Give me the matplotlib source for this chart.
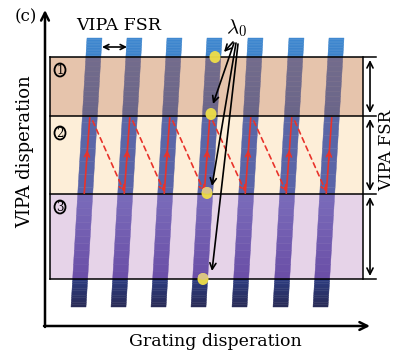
import matplotlib
matplotlib.use("Agg")
import matplotlib.pyplot as plt
import numpy as np
from matplotlib.patches import Polygon, Rectangle, Ellipse
from matplotlib.colors import to_rgb

plt.rcParams['font.family'] = ['DejaVu Serif']
plt.rcParams['mathtext.fontset'] = 'cm'

# ---- diagram data (pixel coords, y down) ----
stripe_top_x = [87, 127, 167, 207, 248, 289, 329]   # left edge of each stripe at its top
stripe_w = 15
stripe_y0, stripe_y1 = 38, 307
stripe_shift = -16                                   # x drift over the full stripe length

rect_x0, rect_x1 = 50, 363
band_edges = [57, 116, 194, 279]
band_colors = ['#e6c4ac', '#fdeed8', '#e6d3e8']
band_labels = ['1', '2', '3']
band_label_y = [70, 133, 207]

seg_edges = [38, 57, 116, 194, 279, 307]
seg_colors = [('#3f88d0', '#3b82ca'),
              ('#736c8c', '#6a6589'),
              ('#5a67a6', '#5a64a8'),
              ('#7a6cba', '#6a4ea6'),
              ('#2c3c80', '#282a55')]

dot_xy = [(215, 57), (211, 114), (207, 193), (203, 279)]
lam_start = [(233, 42), (234, 43), (236, 43), (238, 44)]
lam_end = [(224, 52), (213, 104), (212, 186), (212, 271)]

fig = plt.figure(figsize=(3.96, 3.55), dpi=100)
ax = fig.add_axes([0, 0, 1, 1])
ax.axis('off')


def xl(i, y):
    return stripe_top_x[i] + stripe_shift * (y - stripe_y0) / (stripe_y1 - stripe_y0)


def cx(i, y):
    return xl(i, y) + stripe_w / 2


# bands
for k, c in enumerate(band_colors):
    ax.add_patch(Rectangle((rect_x0, band_edges[k]), rect_x1 - rect_x0,
                           band_edges[k + 1] - band_edges[k], color=c, lw=0, zorder=1))

# stripes, drawn as thin slices so each segment gets a vertical gradient
n_sub = 12
for i in range(len(stripe_top_x)):
    for s in range(len(seg_edges) - 1):
        c0, c1 = np.array(to_rgb(seg_colors[s][0])), np.array(to_rgb(seg_colors[s][1]))
        ys = np.linspace(seg_edges[s], seg_edges[s + 1], n_sub + 1)
        for j in range(n_sub):
            ya, yb = ys[j], ys[j + 1]
            t = (j + 0.5) / n_sub
            col = c0 * (1 - t) + c1 * t
            pts = [(xl(i, ya), ya), (xl(i, ya) + stripe_w, ya),
                   (xl(i, yb) + stripe_w, yb), (xl(i, yb), yb)]
            ax.add_patch(Polygon(pts, closed=True, facecolor=col, edgecolor=col,
                                 lw=0.3, zorder=2))

# box lines
for y in band_edges:
    ax.plot([rect_x0, 376], [y, y], color='k', lw=1.1, zorder=4)
ax.plot([rect_x0, rect_x0], [band_edges[0], band_edges[-1]], color='k', lw=1.1, zorder=4)
ax.plot([rect_x1, rect_x1], [band_edges[0], band_edges[-1]], color='k', lw=1.1, zorder=4)

# circled numbers
for lab, y in zip(band_labels, band_label_y):
    ax.add_patch(Ellipse((60, y), 11, 13, facecolor='none', edgecolor='k', lw=1.3, zorder=5))
    ax.text(60, y + 0.5, lab, ha='center', va='center', fontsize=8.5, zorder=5)

# red paths inside band 2
red = '#e8332b'
ytop, ybot = band_edges[1] + 2, band_edges[2] - 1
for i in range(len(stripe_top_x)):
    ax.plot([cx(i, ybot) - 1, cx(i, ytop)], [ybot, ytop], color=red, lw=1.2, zorder=6)
    ym = 158
    ax.annotate('', xy=(cx(i, ym - 8) - 0.5, ym - 8), xytext=(cx(i, ym + 2) - 0.5, ym + 2),
                arrowprops=dict(arrowstyle='->', color=red, lw=1.2, mutation_scale=9,
                                shrinkA=0, shrinkB=0), zorder=6)
    if i < len(stripe_top_x) - 1:
        ax.annotate('', xy=(cx(i + 1, ybot) - 1, ybot - 1), xytext=(cx(i, ytop) + 3, ytop + 3),
                    arrowprops=dict(arrowstyle='->', color=red, lw=1.2, ls=(0, (3, 2.5)),
                                    mutation_scale=9, shrinkA=0, shrinkB=0), zorder=6)

# yellow dots
for k, (x, y) in enumerate(dot_xy):
    ax.add_patch(Ellipse((x, y), 11, 12, facecolor='#efdf48', edgecolor='none', alpha=0.95, zorder=7))
    if k >= 2:
        ax.add_patch(Ellipse((x, y - 2.5), 10, 6.5, facecolor='#d9c28c', edgecolor='none', alpha=0.9, zorder=7))

# lambda_0 arrows
for s, e in zip(lam_start, lam_end):
    ax.annotate('', xy=e, xytext=s,
                arrowprops=dict(arrowstyle='->', color='k', lw=1.2, mutation_scale=11,
                                shrinkA=0, shrinkB=0), zorder=8)

# right-side FSR arrows
for ya, yb in [(60, 113), (119, 191), (197, 276)]:
    ax.annotate('', xy=(370, yb), xytext=(370, ya),
                arrowprops=dict(arrowstyle='<->', color='k', lw=1.2, mutation_scale=11,
                                shrinkA=0, shrinkB=0), zorder=8)

# top FSR arrow
ax.annotate('', xy=(127, 47), xytext=(102, 47),
            arrowprops=dict(arrowstyle='<->', color='k', lw=1.2, mutation_scale=9,
                            shrinkA=0, shrinkB=0), zorder=8)

# axes arrows
ax.annotate('', xy=(45, 10), xytext=(45, 327),
            arrowprops=dict(arrowstyle='->', color='k', lw=1.8, mutation_scale=14,
                            shrinkA=0, shrinkB=0), zorder=8)
ax.annotate('', xy=(370, 326), xytext=(44, 326),
            arrowprops=dict(arrowstyle='->', color='k', lw=1.8, mutation_scale=14,
                            shrinkA=0, shrinkB=0), zorder=8)

# texts
ax.text(26, 17, '(c)', ha='center', va='center', fontsize=12)
ax.text(119, 25, 'VIPA FSR', ha='center', va='center', fontsize=12.5)
ax.text(236, 28, r'$\lambda_0$', ha='center', va='center', fontsize=15)
ax.text(25, 152, 'VIPA disperation', ha='center', va='center', rotation=90, fontsize=13)
ax.text(387, 150, 'VIPA FSR', ha='center', va='center', rotation=90, fontsize=12)
ax.text(215, 342, 'Grating disperation', ha='center', va='center', fontsize=12.5)

ax.set_xlim(0, 396)
ax.set_ylim(355, 0)
fig.savefig('out.png', dpi=100)
